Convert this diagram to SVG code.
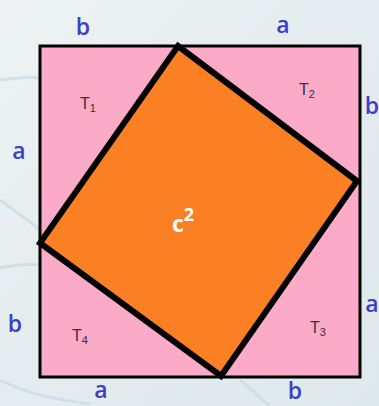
<svg xmlns="http://www.w3.org/2000/svg" width="379" height="406" viewBox="0 0 379 406">
<defs>
<linearGradient id="bg" x1="0" y1="0" x2="1" y2="1">
<stop offset="0" stop-color="#eef2f2"/>
<stop offset="0.5" stop-color="#e4ecef"/>
<stop offset="1" stop-color="#dfe8ec"/>
</linearGradient>
<style>
.side{font-family:"Open Sans","Liberation Sans",sans-serif;font-size:23px;font-weight:600;fill:#3b3fc8;text-anchor:middle}
.tri{font-family:"Liberation Sans",sans-serif;font-size:16px;fill:#333;text-anchor:middle}
.sub{font-size:11px}
</style>
</defs>
<rect width="379" height="406" fill="url(#bg)"/>
<g fill="none" stroke="#c7dbe3" stroke-width="3" opacity="0.7">
<path d="M0 200 C 20 215, 35 225, 40 230"/>
<path d="M0 268 C 15 265, 30 264, 40 265"/>
<path d="M0 80 C 15 78, 30 76, 40 78"/>
<path d="M0 380 C 30 395, 60 400, 90 404"/>
<path d="M240 380 C 255 392, 262 400, 270 406"/>
</g>
<g id="outer">
<rect x="40" y="46" width="320" height="331" fill="#fbaac8" stroke="#000" stroke-width="3"/>
</g>
<g id="inner">
<polygon points="178,46 357,181 221,376 40,243" fill="#fb7f23" stroke="#000" stroke-width="6" stroke-linejoin="miter"/>
<text x="183" y="232" font-family="'Open Sans','Liberation Sans',sans-serif" font-size="23" font-weight="bold" fill="#fff" text-anchor="middle">c<tspan font-size="18" dy="-11">2</tspan></text>
</g>
<g id="labels">
<text class="side" x="83" y="35">b</text>
<text class="side" x="283" y="33">a</text>
<text class="side" x="372" y="114">b</text>
<text class="side" x="19" y="159">a</text>
<text class="side" x="15" y="332">b</text>
<text class="side" x="372" y="312">a</text>
<text class="side" x="101" y="398">a</text>
<text class="side" x="295" y="399">b</text>
</g>
<g id="triangles">
<text class="tri" x="88" y="109">T<tspan class="sub" dy="3">1</tspan></text>
<text class="tri" x="307" y="95">T<tspan class="sub" dy="3">2</tspan></text>
<text class="tri" x="318" y="333">T<tspan class="sub" dy="3">3</tspan></text>
<text class="tri" x="80" y="341">T<tspan class="sub" dy="3">4</tspan></text>
</g>
</svg>
